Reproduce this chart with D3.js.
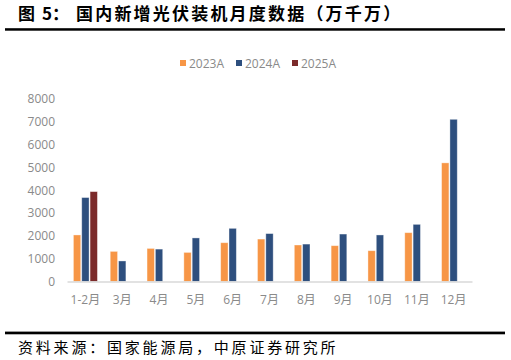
<!DOCTYPE html>
<html><head><meta charset="utf-8">
<script src="https://cdn.jsdelivr.net/npm/d3@7"></script>
<style>body{margin:0;background:#fff}svg{display:block}</style>
</head><body>
<svg id="c" width="511" height="360"></svg>
<script>
const categories = ["1-2月","3月","4月","5月","6月","7月","8月","9月","10月","11月","12月"];
const seriesNames = ["2023A","2024A","2025A"];
const values2023 = [2040,1320,1450,1275,1700,1860,1600,1570,1350,2140,5200];
const values2024 = [3680,900,1420,1910,2330,2100,1640,2080,2040,2505,7110];
const values2025 = [3940,null,null,null,null,null,null,null,null,null,null];
const yTicks = [0,1000,2000,3000,4000,5000,6000,7000,8000];
const colors = ["#F79646","#2E4F7E","#7B2A2A"];

const svg = d3.select("#c");
const seriesValues = [values2023, values2024, values2025];

// Title
svg.append("text").attr("x",18).attr("y",12.5).attr("dominant-baseline","central")
  .attr("font-family","Noto Sans CJK SC").attr("font-weight",700).attr("font-size",17).attr("fill","#000").text("图");
svg.append("text").attr("x",42).attr("y",12.5).attr("dominant-baseline","central")
  .attr("font-family","Noto Sans CJK SC").attr("font-weight",700).attr("font-size",17).attr("fill","#000").text("5：");
svg.append("text").attr("x",76).attr("y",12.5).attr("dominant-baseline","central")
  .attr("font-family","Noto Sans CJK SC").attr("font-weight",700).attr("font-size",17)
  .attr("letter-spacing",2.2).attr("fill","#000").text("国内新增光伏装机月度数据（万千万）");
svg.append("rect").attr("x",5).attr("y",28.2).attr("width",500).attr("height",2.5).attr("fill","#000");
svg.append("rect").attr("x",5).attr("y",331.6).attr("width",500).attr("height",2.7).attr("fill","#000");
svg.append("text").attr("x",18).attr("y",346).attr("dominant-baseline","central")
  .attr("font-family","Noto Sans CJK SC").attr("font-size",15).attr("letter-spacing",2.8)
  .attr("fill","#000").text("资料来源：国家能源局，中原证券研究所");

// Scales
const x = d3.scaleBand().domain(categories).range([67,472]).padding(0);
const x1 = d3.scaleBand().domain(seriesNames).range([0,24]).paddingInner(0.12);
const y = d3.scaleLinear().domain([0,8000]).range([281.5,99]);

// Y axis
const yAxis = d3.axisLeft(y).tickValues(yTicks).tickSize(0).tickPadding(0).tickFormat(d3.format("d"));
const yg = svg.append("g").attr("transform","translate(55,0)").call(yAxis);
yg.select(".domain").remove();
yg.selectAll("text").attr("font-family","Open Sans").attr("font-size",12).attr("fill","#8a8a8a");

// Bars
seriesNames.forEach((s,si)=>{
  svg.append("g").selectAll("rect")
    .data(categories.map((c,i)=>({c, v: seriesValues[si][i]})).filter(d=>d.v!=null))
    .join("rect")
    .attr("x", d => x(d.c) + x.bandwidth()/2 - 12 + x1(s))
    .attr("y", d => y(d.v))
    .attr("width", x1.bandwidth())
    .attr("height", d => y(0) - y(d.v))
    .attr("fill", colors[si])
    .attr("stroke","rgba(255,255,255,0.45)").attr("stroke-width",0.8);
});

// X axis
const xAxis = d3.axisBottom(x).tickSize(0).tickPadding(14);
const xg = svg.append("g").attr("transform","translate(0,281.5)").call(xAxis);
xg.select(".domain").attr("stroke","#d9d9d9").attr("stroke-width",1.5);
xg.selectAll("text").attr("font-family","Open Sans, Noto Sans CJK SC").attr("font-size",12).attr("fill","#8a8a8a");

// Legend
const lx = [180,236,292];
seriesNames.forEach((s,i)=>{
  svg.append("rect").attr("x",lx[i]).attr("y",60).attr("width",6).attr("height",6).attr("fill",colors[i]);
  svg.append("text").attr("x",lx[i]+9).attr("y",63.5).attr("dominant-baseline","central")
    .attr("font-family","Open Sans").attr("font-size",12).attr("fill","#8a8a8a").text(s);
});
</script>
</body></html>
